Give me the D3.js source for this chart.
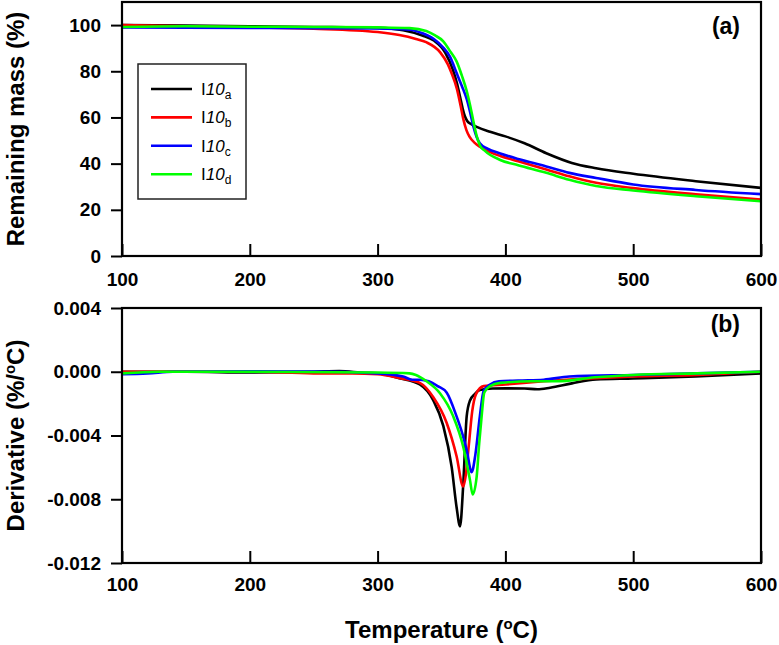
<!DOCTYPE html>
<html><head><meta charset="utf-8">
<script src="https://cdn.jsdelivr.net/npm/d3@7"></script>
<style>
body{margin:0;background:#fff}
svg{display:block}
text{font-family:"Liberation Sans",Arial,sans-serif}
</style>
</head><body>
<svg id="c" width="779" height="645"></svg>
<script>
// ---------- data ----------
const xTicks = [100, 200, 300, 400, 500, 600];
const massTicks = [0, 20, 40, 60, 80, 100];
const derivTicks = [0.004, 0.000, -0.004, -0.008, -0.012];
const seriesSubs = ["a", "b", "c", "d"];
const seriesColors = ["#000000", "#ff0000", "#0000ff", "#00ff00"];

// Remaining mass (%) vs temperature (°C)
const massA = [[100,100],[150,99.8],[200,99.5],[250,99.2],[300,98.8],[320,97.8],[335,95.5],[344,93.3],[353,88],[359,80.5],[362,75],[364.5,69],[366.5,64],[368.3,60.5],[370,58.6],[373,57.2],[378,55.8],[388,53.8],[400,51.8],[415,48.8],[432,44.5],[452,40.3],[471,38],[500,35.6],[549,32.4],[600,29.5]];
const massB = [[100,100],[150,99.5],[200,99],[250,98.4],[300,97],[317,95.7],[330,94],[338,92.6],[349,88.2],[355,83],[358,79],[362,72.5],[365,65],[367,59.5],[369.5,54.5],[372,51.6],[376,49],[380,47.3],[388,45],[396,43.3],[410,41],[432,37.5],[450,34.5],[471,31.7],[500,29.4],[549,26.7],[600,24.4]];
const massC = [[100,99],[150,98.9],[200,98.8],[250,98.7],[300,98.5],[325,98],[335,96.5],[344,94],[351,90.5],[356.6,86.3],[362,79],[366,73.5],[369.7,68],[372.5,62],[375,56],[377.5,51.5],[380,48.8],[386,46.5],[396,44.4],[410,42],[432,38.8],[450,36],[471,33.8],[500,31],[549,28.6],[600,26.8]];
const massD = [[100,99.2],[150,99.5],[200,99.3],[250,99.2],[300,99],[325,98.7],[338,97.4],[345,95.5],[351.4,93],[357,88.5],[361.8,84.3],[366,78],[369.7,71.5],[372.5,65],[374.9,58.5],[377.5,52],[380,48],[384,45.5],[396,41.6],[410,39.3],[432,36],[450,33],[471,30.3],[500,28.4],[549,25.9],[600,23.7]];

// Derivative (%/°C) vs temperature (°C)
const derivA = [[100,0],[150,0],[200,-0.00005],[250,0],[270,0.00005],[290,-0.00008],[300,-0.0001],[317,-0.0004],[333,-0.0008],[343.6,-0.0018],[351.4,-0.0034],[358,-0.006],[361.8,-0.0085],[364.5,-0.0097],[367,-0.0071],[369.7,-0.0028],[372.3,-0.0018],[376,-0.0014],[380,-0.00115],[390,-0.00105],[400,-0.00104],[415,-0.00105],[425,-0.0011],[435,-0.001],[452,-0.00073],[471,-0.00048],[500,-0.00042],[549,-0.0003],[600,-0.0001]];
const derivB = [[100,0],[200,0],[250,-0.0001],[280,-0.0001],[300,-0.00015],[317.5,-0.0004],[333,-0.0007],[343.6,-0.0016],[354,-0.0032],[361.8,-0.0053],[367,-0.0072],[369,-0.0065],[371.5,-0.0045],[374,-0.0025],[377,-0.0014],[383,-0.0009],[400,-0.0008],[430,-0.0006],[470,-0.0004],[500,-0.0003],[550,-0.0002],[600,0]];
const derivC = [[100,-0.00015],[120,-0.0001],[140,0],[200,0.00003],[250,0.00002],[300,-0.0001],[320,-0.0003],[327,-0.0005],[333,-0.0005],[340,-0.0006],[347,-0.0009],[354,-0.0013],[361.8,-0.0028],[366,-0.0038],[369.7,-0.0049],[373.6,-0.0063],[376.5,-0.0052],[380,-0.0028],[383,-0.0012],[388,-0.0008],[395,-0.0006],[410,-0.00055],[430,-0.0005],[450,-0.0003],[500,-0.0002],[550,-0.0001],[600,0]];
const derivD = [[100,-0.0001],[130,0],[200,0],[300,-0.00005],[325,-0.0001],[330,-0.0002],[338.3,-0.0006],[348.8,-0.00135],[359.2,-0.0028],[367,-0.0047],[372.3,-0.0068],[374.4,-0.0077],[377.5,-0.0066],[379.5,-0.0045],[381.4,-0.0028],[383.5,-0.0013],[388,-0.0009],[396,-0.0007],[420,-0.0006],[440,-0.0006],[470,-0.00035],[500,-0.0002],[550,-0.0001],[600,0]];

const massSeries = [massA, massB, massC, massD];
const derivSeries = [derivA, derivB, derivC, derivD];

// ---------- layout ----------
const svg = d3.select("#c");
const L = 122, R = 761;
const x = d3.scaleLinear().domain([100, 600]).range([L, R]);
const yTop = d3.scaleLinear().domain([0, 110]).range([256, 2]);
const yBot = d3.scaleLinear().domain([-0.012, 0.004]).range([563, 308]);

const tickFont = "19px";

function panel(yScale, ticks, fmt, series, clipId, labelTxt, labelY, xPad) {
  const top = yScale.range()[1], bot = yScale.range()[0];
  svg.append("clipPath").attr("id", clipId).append("rect")
    .attr("x", L).attr("y", top).attr("width", R - L).attr("height", bot - top);

  const g = svg.append("g");
  // curves
  const line = d3.line().x(d => x(d[0])).y(d => yScale(d[1])).curve(d3.curveMonotoneX);
  series.forEach((s, i) => {
    g.append("path").attr("d", line(s)).attr("fill", "none")
      .attr("stroke", seriesColors[i]).attr("stroke-width", 2.6)
      .attr("stroke-linejoin", "round").attr("clip-path", `url(#${clipId})`);
  });

  // y axis
  const ya = g.append("g").attr("transform", `translate(${L},0)`)
    .call(d3.axisLeft(yScale).tickValues(ticks).tickFormat(fmt).tickSizeInner(11).tickSizeOuter(0).tickPadding(10));
  ya.select(".domain").remove();
  ya.selectAll("line").attr("stroke", "#000").attr("stroke-width", 2);
  ya.selectAll("text").attr("font-size", tickFont).attr("font-weight", "bold").attr("fill", "#000")
    .style("font-family", '"Liberation Sans",Arial,sans-serif');

  // x axis (ticks inward)
  const xa = g.append("g").attr("transform", `translate(0,${bot})`)
    .call(d3.axisBottom(x).tickValues(xTicks).tickSizeInner(-12).tickSizeOuter(0).tickPadding(xPad));
  xa.select(".domain").remove();
  xa.selectAll("line").attr("stroke", "#000").attr("stroke-width", 2);
  xa.selectAll("text").attr("font-size", tickFont).attr("font-weight", "bold").attr("fill", "#000")
    .style("font-family", '"Liberation Sans",Arial,sans-serif');

  // frame
  g.append("rect").attr("x", L).attr("y", top).attr("width", R - L).attr("height", bot - top)
    .attr("fill", "none").attr("stroke", "#000").attr("stroke-width", 2.2);

  // panel label
  g.append("text").attr("x", 740).attr("y", labelY).attr("text-anchor", "end")
    .attr("font-size", "23px").attr("font-weight", "bold").text(labelTxt);
}

panel(yTop, massTicks, d => String(d), massSeries, "clipTop", "(a)", 34, 17);
panel(yBot, derivTicks, d => d.toFixed(3), derivSeries, "clipBot", "(b)", 332, 15);

// axis titles
svg.append("text").attr("transform", `translate(24,${(2 + 256) / 2}) rotate(-90)`)
  .attr("text-anchor", "middle").attr("font-size", "24px").attr("font-weight", "bold")
  .text("Remaining mass (%)");

const dt = svg.append("text").attr("transform", `translate(24,${(308 + 563) / 2}) rotate(-90)`)
  .attr("text-anchor", "middle").attr("font-size", "24px").attr("font-weight", "bold");
dt.append("tspan").text("Derivative (%/");
dt.append("tspan").attr("font-size", "15px").attr("dy", "-9").text("o");
dt.append("tspan").attr("dy", "9").text("C)");

const tt = svg.append("text").attr("x", (L + R) / 2).attr("y", 638)
  .attr("text-anchor", "middle").attr("font-size", "24px").attr("font-weight", "bold");
tt.append("tspan").text("Temperature (");
tt.append("tspan").attr("font-size", "15px").attr("dy", "-9").text("o");
tt.append("tspan").attr("dy", "9").text("C)");

// legend
const lg = svg.append("g");
lg.append("rect").attr("x", 138).attr("y", 64).attr("width", 108).attr("height", 135)
  .attr("fill", "#fff").attr("stroke", "#222").attr("stroke-width", 1.5);
seriesSubs.forEach((s, i) => {
  const yy = 89 + i * 28.4;
  lg.append("line").attr("x1", 151).attr("x2", 192).attr("y1", yy).attr("y2", yy)
    .attr("stroke", seriesColors[i]).attr("stroke-width", 2.6);
  const t = lg.append("text").attr("x", 201).attr("y", yy + 6).attr("font-size", "17px");
  t.append("tspan").text("I");
  t.append("tspan").attr("font-style", "italic").text("10");
  t.append("tspan").attr("font-size", "12px").attr("dy", "4").text(s);
});
</script>
</body></html>
